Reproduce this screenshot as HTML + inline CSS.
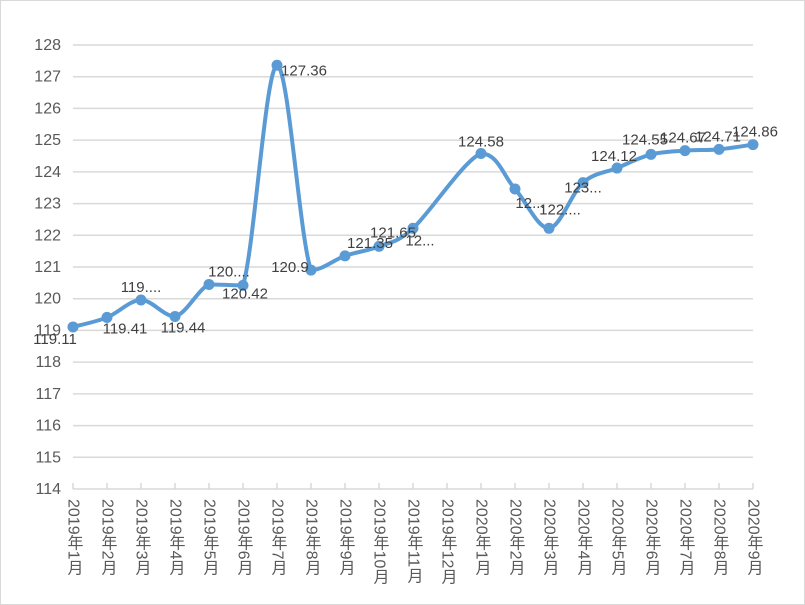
<!DOCTYPE html>
<html><head><meta charset="utf-8">
<style>
html,body{margin:0;padding:0;background:#fff;}
svg{display:block;font-family:"Liberation Sans","Noto Sans CJK SC",sans-serif;}
.vt{writing-mode:vertical-rl;}
</style></head>
<body>
<svg id="chart" width="805" height="605" viewBox="0 0 805 605">
<rect x="0.5" y="0.5" width="804" height="604" fill="#fff" stroke="#d9d9d9"/>
<g id="grid"></g><g id="xaxis"></g><g id="yaxis"></g><g id="series"></g><g id="labels"></g>
</svg>
<script>
const categories=["2019年1月","2019年2月","2019年3月","2019年4月","2019年5月","2019年6月","2019年7月","2019年8月","2019年9月","2019年10月","2019年11月","2019年12月","2020年1月","2020年2月","2020年3月","2020年4月","2020年5月","2020年6月","2020年7月","2020年8月","2020年9月"];
const values=[119.11,119.41,119.96,119.44,120.45,120.42,127.36,120.9,121.35,121.65,122.22,null,124.58,123.46,122.22,123.66,124.12,124.55,124.67,124.71,124.86];
const valueLabels=["119.11","119.41","119....","119.44","120....","120.42","127.36","120.9","121.35","121.65","12...","","124.58","12...","122....","123...","124.12","124.55","124.67","124.71","124.86"];
const yTicks=[114,115,116,117,118,119,120,121,122,123,124,125,126,127,128];
const labelOffsets=[[-18,17],[18,16],[0,-8],[8,16],[20,-8],[2,13],[27,10],[-21,2],[25,-8],[14,-9],[7,17],[0,0],[0,-7],[15,19],[11,-14],[0,10],[-3,-7],[-6,-10],[-2,-8],[-1,-8],[2,-8]];
const NS="http://www.w3.org/2000/svg";
const X0=73,X1=753,Y0=489,Y1=45,YMIN=114,YMAX=128;
const xs=i=>X0+i*(X1-X0)/(categories.length-1);
const ys=v=>Y0-(v-YMIN)*(Y0-Y1)/(YMAX-YMIN);
function mk(t,a,p){const e=document.createElementNS(NS,t);for(const k in a)e.setAttribute(k,a[k]);p.appendChild(e);return e;}
const grid=document.getElementById('grid'),xa=document.getElementById('xaxis'),ya=document.getElementById('yaxis'),se=document.getElementById('series'),lb=document.getElementById('labels');
yTicks.forEach(t=>{
  const y=ys(t);
  if(t!==YMIN){const l=mk('line',{x1:X0,x2:X1,y1:y,y2:y,stroke:'#d9d9d9','stroke-width':1.5},grid);
  
  }
  const tx=mk('text',{x:61,y:y+5,'text-anchor':'end','font-size':16,fill:'#595959'},ya);
  tx.textContent=t;
  
  
});
const ax=mk('line',{x1:X0,x2:X1,y1:Y0,y2:Y0,stroke:'#d9d9d9','stroke-width':1.5},xa);


categories.forEach((c,i)=>{
  const x=xs(i);
  const tk=mk('line',{x1:x,x2:x,y1:Y0-6,y2:Y0,stroke:'#d9d9d9','stroke-width':1.5},xa);
  
  
  const t=mk('text',{x:x,y:Y0+10,'font-size':16,fill:'#595959','class':'vt'},xa);
  t.textContent=c;
  
  
});
const pts=[];values.forEach((v,i)=>{if(v!==null)pts.push([xs(i),ys(v),i]);});
const clamp=(v,a,b)=>Math.max(Math.min(a,b),Math.min(Math.max(a,b),v));
let d=`M${pts[0][0]},${pts[0][1]}`;
for(let k=0;k<pts.length-1;k++){
  const p0=pts[Math.max(0,k-1)],p1=pts[k],p2=pts[k+1],p3=pts[Math.min(pts.length-1,k+2)];
  const s=6;
  const c1y=clamp(p1[1]+(p2[1]-p0[1])/s,p1[1],p2[1]);
  const c2y=clamp(p2[1]-(p3[1]-p1[1])/s,p1[1],p2[1]);
  d+=` C${p1[0]+(p2[0]-p0[0])/s},${c1y} ${p2[0]-(p3[0]-p1[0])/s},${c2y} ${p2[0]},${p2[1]}`;
}
const path=mk('path',{d:d,fill:'none',stroke:'#5b9bd5','stroke-width':4,'stroke-linejoin':'round','stroke-linecap':'round'},se);


pts.forEach(p=>{
  const c=mk('circle',{cx:p[0],cy:p[1],r:5.5,fill:'#5b9bd5'},se);
  
  
  const o=labelOffsets[p[2]];
  const t=mk('text',{x:p[0]+o[0],y:p[1]+o[1],'text-anchor':'middle','font-size':15,fill:'#404040'},lb);
  t.textContent=valueLabels[p[2]];
  
  
});
</script>
</body></html>
